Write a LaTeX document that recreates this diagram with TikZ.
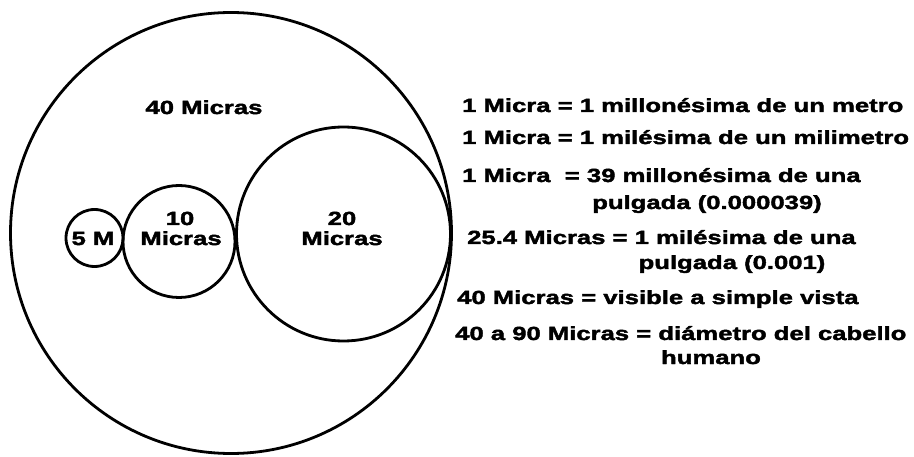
\documentclass[tikz,border=0pt]{standalone}
\usepackage{fontspec}
\newfontfamily\heavy{Liberation Sans Bold}[FakeStretch=1.35,FakeBold=2.2]
\usepackage{tikz}
\usetikzlibrary{positioning}
\tikzset{
  ring/.style={draw=black,line width=2.8pt,circle,inner sep=0pt,minimum size=#1},
  lbl/.style={font=\heavy\fontsize{19}{20}\selectfont,inner sep=0pt,anchor=base},
  defn/.style={lbl,anchor=base west},
}
\begin{document}
\begin{tikzpicture}[x=1pt,y=-1pt]
  \useasboundingbox (0,0) rectangle (914,457);
  \node[ring=441] (c40) at (231,233)   {};
  \node[ring=214] (c20) at (343.5,234) {};
  \node[ring=112] (c10) at (179,241.5) {};
  \node[ring=57]  (c5)  at (94.5,238)  {};
  \node[lbl] (l40)  at (204,114) {40 Micras};
  \node[lbl] (l20a) at (342,225) {20};
  \node[lbl] (l20b) at (342,245) {Micras};
  \node[lbl] (l10a) at (180,225) {10};
  \node[lbl] (l10b) at (181,245) {Micras};
  \node[lbl] (l5)   at (93,245)  {5 M};
  \node[defn] (d1)  at (462,112) {1 Micra = 1 millonésima de un metro};
  \node[defn] (d2)  at (462,144) {1 Micra = 1 milésima de un milimetro};
  \node[defn] (d3)  at (462,182) {1 Micra \ = 39 millonésima de una};
  \node[lbl]  (d3b) at (707,209) {pulgada (0.000039)};
  \node[defn] (d4)  at (467,244) {25.4 Micras = 1 milésima de una};
  \node[lbl]  (d4b) at (732,269) {pulgada (0.001)};
  \node[defn] (d5)  at (457,304) {40 Micras = visible a simple vista};
  \node[defn] (d6)  at (455,340) {40 a 90 Micras = diámetro del cabello};
  \node[lbl]  (d6b) at (711,364) {humano};
\end{tikzpicture}
\end{document}
